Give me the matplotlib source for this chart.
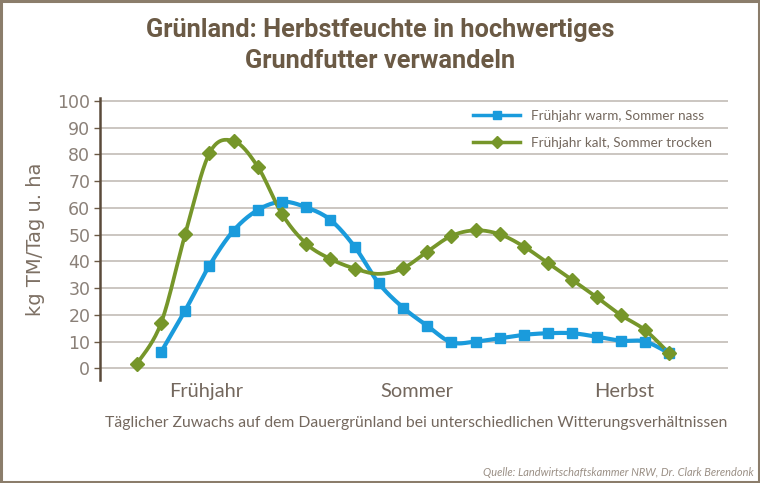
import numpy as np
import matplotlib
matplotlib.use("Agg")
import matplotlib.pyplot as plt
from matplotlib.patches import Rectangle
from matplotlib.lines import Line2D

# ---------------- data ----------------
TITLE = "Grünland: Herbstfeuchte in hochwertiges\nGrundfutter verwandeln"
Y_LABEL = "kg TM/Tag u. ha"
FOOTER = "Täglicher Zuwachs auf dem Dauergrünland bei unterschiedlichen Witterungsverhältnissen"
SOURCE = "Quelle: Landwirtschaftskammer NRW, Dr. Clark Berendonk"

season_labels = ["Frühjahr", "Sommer", "Herbst"]
season_pos = [2.85, 11.55, 20.15]

warm_label = "Frühjahr warm, Sommer nass"
warm_x = list(range(1, 23))
warm_y = [6.0, 21.6, 38.4, 51.5, 59.2, 62.3, 60.2, 55.5, 45.5, 31.8, 22.7,
          15.9, 9.7, 10.0, 11.2, 12.5, 13.1, 13.1, 11.8, 10.3, 10.0, 5.6]

kalt_label = "Frühjahr kalt, Sommer trocken"
kalt_x = list(range(0, 23))
kalt_y = [1.6, 16.8, 50.1, 80.4, 85.0, 75.4, 57.7, 46.6, 40.9, 37.3, 35.3,
          37.4, 43.6, 49.5, 51.6, 50.1, 45.5, 39.3, 33.0, 26.6, 19.9, 14.3, 5.6]
kalt_no_marker = [10]

BLUE = "#1a9bdc"
GREEN = "#76962a"
BROWN = "#6b5a45"
TEXT = "#74685e"


def smooth(x, y, n=20):
    # bezier smoothing like a spreadsheet "smoothed line"
    p = np.column_stack([x, y]).astype(float)
    p = np.vstack([p[0], p, p[-1]])
    out = []
    for i in range(1, len(p) - 2):
        p0, p1, p2, p3 = p[i - 1], p[i], p[i + 1], p[i + 2]
        c1 = p1 + (p2 - p0) / 6.0
        c2 = p2 - (p3 - p1) / 6.0
        t = np.linspace(0, 1, n)[:, None]
        seg = ((1 - t) ** 3) * p1 + 3 * ((1 - t) ** 2) * t * c1 + 3 * (1 - t) * t ** 2 * c2 + t ** 3 * p2
        out.append(seg if i == 1 else seg[1:])
    s = np.vstack(out)
    return s[:, 0], s[:, 1]


fig = plt.figure(figsize=(7.6, 4.83), dpi=100)
W, H = 760.0, 483.0

# axes placed so the grid runs from x=100 to 728 px
ax = fig.add_axes([100 / W, 1 - 380 / H, 628 / W, 282 / H])
ax.set_xlim(-1.52, 24.43)
ax.set_ylim(-4.4, 101.1)

for v in range(0, 101, 10):
    ax.axhline(v, color="#cbc6c1", lw=1.4, zorder=1)

ax.set_yticks(range(0, 101, 10))
ax.tick_params(axis="y", length=4, width=1, color="#6b5a45", pad=3,
               labelsize=12.5, labelcolor="#8a8078")
for lab in ax.get_yticklabels():
    lab.set_family("DejaVu Sans")
ax.set_xticks([])
for s in ["top", "right", "bottom"]:
    ax.spines[s].set_visible(False)
ax.spines["left"].set_color("#5a4a3a")
ax.spines["left"].set_linewidth(1.8)

ax.set_ylabel(Y_LABEL, fontsize=14, color="#7d7064", family="DejaVu Sans", labelpad=9)

sx, sy = smooth(warm_x, warm_y)
ax.plot(sx, sy, color=BLUE, lw=3, zorder=3, solid_capstyle="round")
ax.plot(warm_x, warm_y, ls="none", marker="s", ms=7.5, color=BLUE, zorder=4)

sx, sy = smooth(kalt_x, kalt_y)
ax.plot(sx, sy, color=GREEN, lw=2.7, zorder=3, solid_capstyle="round")
mk = [i for i in range(len(kalt_x)) if i not in kalt_no_marker]
ax.plot([kalt_x[i] for i in mk], [kalt_y[i] for i in mk], ls="none",
        marker="D", ms=7, color=GREEN, zorder=4)

for lab, pos in zip(season_labels, season_pos):
    ax.text(pos, -5.6, lab, ha="center", va="top", fontsize=14.4,
            color=TEXT, family="Lato")

handles = [Line2D([], [], color=BLUE, lw=2.5, marker="s", ms=6),
           Line2D([], [], color=GREEN, lw=2.5, marker="D", ms=6)]
leg = fig.legend(handles, [warm_label, kalt_label], loc="upper left",
                 bbox_to_anchor=(473 / W, 1 - 109.5 / H), frameon=False,
                 handlelength=3.5, handletextpad=0.8, labelspacing=1.15,
                 borderpad=0, borderaxespad=0,
                 prop={"family": "Lato", "size": 9.7})
for t in leg.get_texts():
    t.set_color(TEXT)

fig.text(0.5, 1 - 45.5 / H, TITLE, ha="center", va="center", fontsize=18.3,
         fontweight="bold", color=BROWN, linespacing=1.32, family="Roboto")
fig.text(416 / W, 1 - 423 / H, FOOTER, ha="center", va="center",
         fontsize=11.3, color=TEXT, family="Lato")
fig.text(754 / W, 1 - 472 / H, SOURCE, ha="right", va="center",
         fontsize=7.9, style="italic", color="#9a8f85", family="Lato")

fig.patches.append(Rectangle((0.0015, 0.002), 0.997, 0.996, transform=fig.transFigure,
                             fill=False, ec="#8b7d6b", lw=2.2))

fig.savefig("out.png", dpi=100)
